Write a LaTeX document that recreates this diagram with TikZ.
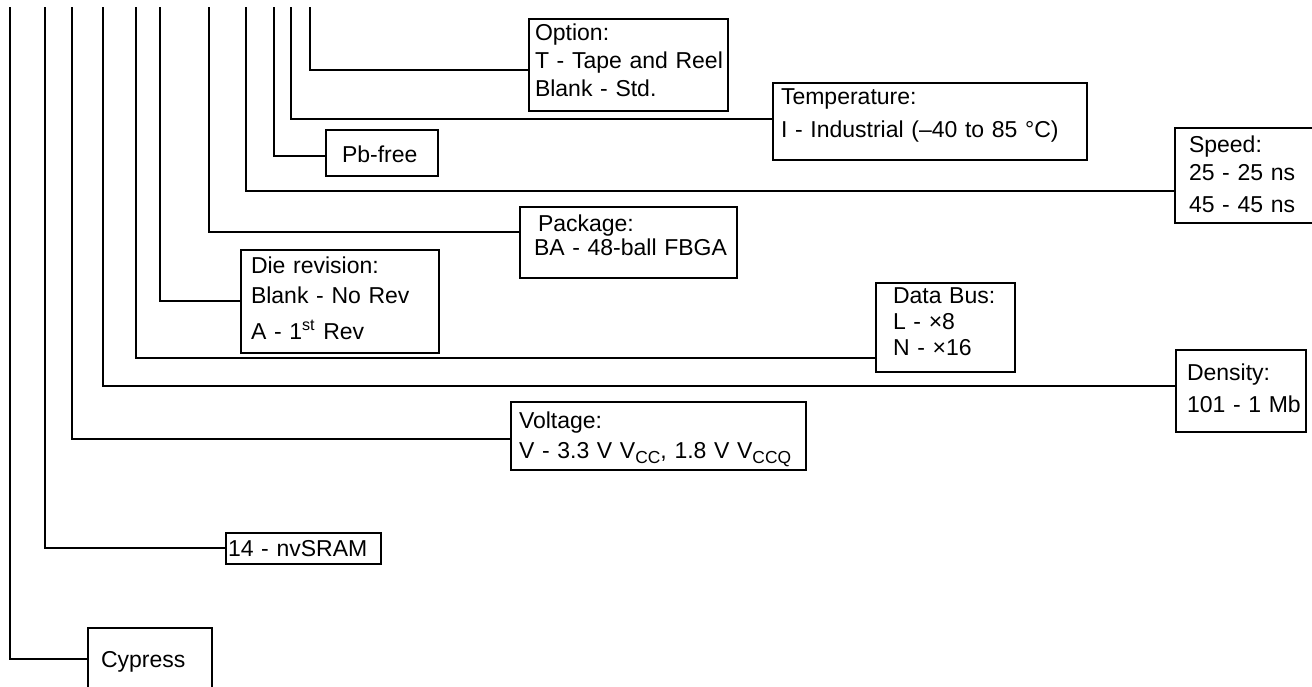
\documentclass[tikz,border=0pt]{standalone}
\usepackage{fontspec}
\setmainfont{Liberation Sans}
\usetikzlibrary{positioning}

\newcommand{\vsub}[1]{\raisebox{-2.5pt}{\fontsize{8.7}{9}\selectfont #1}}

\begin{document}
\begin{tikzpicture}[x=0.5pt, y=-0.5pt,
    lead/.style={line width=1.1pt},
    partbox/.style={draw, line width=1.1pt, anchor=north west, align=left,
      outer sep=0pt, inner ysep=0pt, font=\fontsize{11.5}{14}\selectfont}]
  % Frame (pixel units, y downwards)
  \useasboundingbox (0,0) rectangle (1312,686);
  \clip (0,0) rectangle (1312,686);
  \def\ytop{7}

  % Tops of the leads, left to right
  \coordinate (tCyp)  at (10,\ytop);
  \coordinate (tNvs)  at (45,\ytop);
  \coordinate (tVolt) at (72,\ytop);
  \coordinate (tDens) at (103,\ytop);
  \coordinate (tDbus) at (136,\ytop);
  \coordinate (tDie)  at (160,\ytop);
  \coordinate (tPkg)  at (209,\ytop);
  \coordinate (tSpd)  at (246,\ytop);
  \coordinate (tPbf)  at (274,\ytop);
  \coordinate (tTmp)  at (291,\ytop);
  \coordinate (tOpt)  at (310,\ytop);

  % Field boxes
  \node[partbox, inner xsep=3pt, text width=93.5pt, text height=10.5pt, text depth=35.5pt]
    (opt) at (529,19) {Option:\\\mbox{T - Tape and Reel}\\Blank - Std.};
  \node[partbox, inner xsep=4pt, text width=149pt, text height=10.5pt, text depth=28pt]
    (tmp) at (773,83) {Temperature:\\[2.5pt]\mbox{I - Industrial (–40 to 85 °C)}};
  \node[partbox, inner xsep=8pt, text width=40pt, text height=16pt, text depth=7pt]
    (pbf) at (326,130) {Pb-free};
  \node[partbox, inner xsep=7pt, text width=57pt, text height=12pt, text depth=35.5pt]
    (spd) at (1175,128) {Speed:\\25 - 25 ns\\[2pt]45 - 45 ns};
  \node[partbox, inner xsep=7pt, text width=94.5pt, text height=12pt, text depth=23.5pt]
    (pkg) at (520,207) {\hspace*{2pt}Package:\\[-2pt]\mbox{BA - 48-ball FBGA}};
  \node[partbox, inner xsep=5pt, text width=89pt, text height=11.5pt, text depth=40pt]
    (die) at (241,250) {Die revision:\\[1pt]Blank - No Rev\\[4pt]A - 1\textsuperscript{st} Rev};
  \node[partbox, inner xsep=8.5pt, text width=52.5pt, text height=10pt, text depth=34.5pt]
    (dbus) at (876,283) {\mbox{Data Bus:}\\[-1pt]L - ×8\\[-1pt]N - ×16};
  \node[partbox, inner xsep=5.5pt, text width=54pt, text height=15pt, text depth=26pt]
    (dens) at (1176,350) {Density:\\[2pt]\mbox{101 - 1 Mb}};
  \node[partbox, inner xsep=4pt, text width=139.5pt, text height=13pt, text depth=21pt]
    (volt) at (511,402) {Voltage:\\[1pt]\mbox{V - 3.3 V V\vsub{CC}, 1.8 V V\vsub{CCQ}}};
  \node[partbox, inner xsep=1pt, text width=75.5pt, text height=11.5pt, text depth=4pt]
    (nvs) at (226,533) {14 - nvSRAM};
  \node[partbox, inner xsep=6.5pt, text width=49pt, text height=19.5pt, text depth=11.5pt]
    (cyp) at (88,628) {Cypress};

  % Leads from the part number down to each box
  \draw[lead] (tOpt)  |- (opt.west |- 0,70);
  \draw[lead] (tTmp)  |- (tmp.west |- 0,119);
  \draw[lead] (tPbf)  |- (pbf.west |- 0,156);
  \draw[lead] (tSpd)  |- (spd.west |- 0,191);
  \draw[lead] (tPkg)  |- (pkg.west |- 0,232);
  \draw[lead] (tDie)  |- (die.west |- 0,301);
  \draw[lead] (tDbus) |- (dbus.west |- 0,358);
  \draw[lead] (tDens) |- (dens.west |- 0,386);
  \draw[lead] (tVolt) |- (volt.west |- 0,439);
  \draw[lead] (tNvs)  |- (nvs.west |- 0,548);
  \draw[lead] (tCyp)  |- (cyp.west |- 0,659);
\end{tikzpicture}
\end{document}
